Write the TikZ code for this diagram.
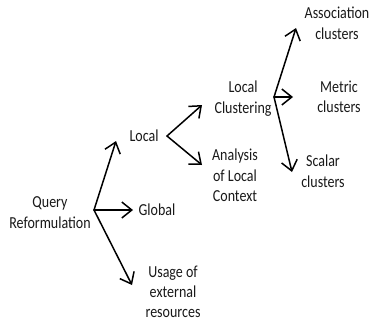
\documentclass[tikz,border=0pt]{standalone}
\usepackage{fontspec}
\setmainfont{Carlito}
\usetikzlibrary{arrows.meta, positioning, calc}

% text of the chart is drawn a little taller than wide
\newcommand{\tallstack}[1]{\scalebox{1}[1.2]{\begin{tabular}{@{}c@{}}#1\end{tabular}}}

\begin{document}
\begin{tikzpicture}[x=1pt, y=-1pt, >={Straight Barb[length=10pt,width=16pt]}, line cap=round, line join=round]
	\tikzset{
		lbl/.style={inner sep=2pt, text=black!90, font=\fontsize{14}{16.7}\selectfont},
		branch/.style={->, line width=1.5pt}
	}
	
	\useasboundingbox (0,0) rectangle (371,322);
	
	% nodes
	\node[lbl] (qr) at (50,214) {\tallstack{Query\\Reformulation}};
	\node[lbl] (local) at (144,137.5) {\tallstack{Local}};
	\node[lbl] (global) at (157,211) {\tallstack{Global}};
	\node[lbl] (usage) at (173,293.5) {\tallstack{Usage of\\external\\resources}};
	\node[lbl] (lclust) at (243,99) {\tallstack{Local\\Clustering}};
	\node[lbl] (analysis) at (235,177) {\tallstack{Analysis\\of Local\\Context}};
	\node[lbl] (assoc) at (337,25) {\tallstack{Association\\clusters}};
	\node[lbl] (metric) at (339,98.5) {\tallstack{Metric\\clusters}};
	\node[lbl] (scalar) at (323,173) {\tallstack{Scalar\\clusters}};
	
	% fork points
	\coordinate (qrfork) at ([shift={(44,-4)}]qr.center);
	\coordinate (localfork) at ([shift={(23,-1.5)}]local.center);
	\coordinate (lclustfork) at ([shift={(31,-2)}]lclust.center);
	
	\draw[branch] (qrfork) -- ([shift={(-28,3.5)}]local.center);
	\draw[branch] (qrfork) -- ([shift={(-24,-1)}]global.center);
	\draw[branch] (qrfork) -- ([shift={(-41,-8.5)}]usage.center);
	
	\draw[branch] (localfork) -- ([shift={(-41,6)}]lclust.center);
	\draw[branch] (localfork) -- ([shift={(-33,-12)}]analysis.center);
	
	\draw[branch] (lclustfork) -- ([shift={(-41,3)}]assoc.center);
	\draw[branch] (lclustfork) -- ([shift={(-46,-1.5)}]metric.center);
	\draw[branch] (lclustfork) -- ([shift={(-31,-1)}]scalar.center);
	
\end{tikzpicture}
\end{document}
